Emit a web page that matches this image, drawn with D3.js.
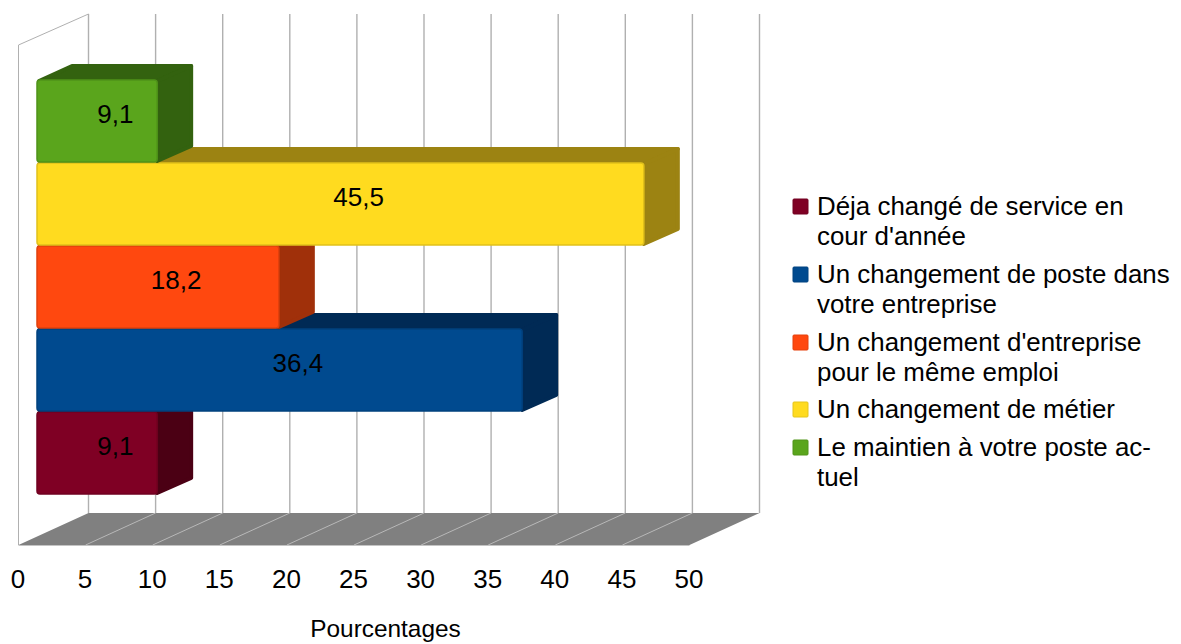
<!DOCTYPE html>
<html><head><meta charset="utf-8">
<script src="https://cdn.jsdelivr.net/npm/d3@7"></script>
<style>html,body{margin:0;padding:0;background:#fff}svg{display:block}text{font-family:"Liberation Sans",Arial,sans-serif;fill:#000}</style>
</head><body><svg id="c" width="1181" height="644"></svg>
<script>
const categories=["Déja changé de service en cour d'année","Un changement de poste dans votre entreprise","Un changement d'entreprise pour le même emploi","Un changement de métier","Le maintien à votre poste actuel"];
const legendLines=[["Déja changé de service en","cour d'année"],["Un changement de poste dans","votre entreprise"],["Un changement d'entreprise","pour le même emploi"],["Un changement de métier"],["Le maintien à votre poste ac-","tuel"]];
const values=[9.1,36.4,18.2,45.5,9.1];
const valueLabels=["9,1","36,4","18,2","45,5","9,1"];
const faceColors=["#7f0024","#004a8f","#ff480f","#ffdb1f","#5aa51c"];
const sideColors=["#4b0014","#002a55","#a0300a","#9c8312","#33620f"];
const axisTitle="Pourcentages";
const tickValues=d3.range(0,51,5);

const svg=d3.select("#c");
const x=d3.scaleLinear().domain([0,50]).range([18.5,689.5]);
const barX=d3.scaleLinear().domain([0,50]).range([35.5,704]);
const y=d3.scaleBand().domain(d3.range(values.length)).range([495,80]);
const floorY=545,backDX=70,backDY=-32,topY=14,barLeft=37,barDX=35,barDY=-15;
const grid="#b0b0b0";

// walls
const wall=svg.append("g").attr("fill","none").attr("stroke",grid);
wall.selectAll("line.g").data(tickValues).join("line").attr("class","g")
 .attr("x1",d=>x(d)+backDX).attr("x2",d=>x(d)+backDX).attr("y1",topY).attr("y2",floorY+backDY).attr("stroke-width",1.4);
wall.append("path").attr("d",`M${x(0)},${floorY}V45L${x(0)+backDX},${topY}`).attr("stroke-width",1);

// floor
svg.append("path").attr("fill","#808080")
 .attr("d",`M${x(0)},${floorY}L${x(0)+backDX},${floorY+backDY}H${x(50)+backDX}L${x(50)},${floorY}Z`);
svg.append("g").attr("stroke","#b8b8b8").attr("stroke-width",1).selectAll("line").data(tickValues.slice(1,-1)).join("line")
 .attr("x1",d=>x(d)).attr("y1",floorY).attr("x2",d=>x(d)+backDX).attr("y2",floorY+backDY);
svg.append("line").attr("x1",x(0)).attr("x2",x(50)).attr("y1",floorY+.5).attr("y2",floorY+.5).attr("stroke","#c4c4c4");

// bars, drawn bottom first so upper ones overlap
const bars=svg.append("g").selectAll("g").data(values).join("g");
bars.each(function(v,i){
  const g=d3.select(this),x0=barLeft,x1=barX(v),t=y(i),b=t+y.bandwidth()-1;
  const poly=(d,f)=>g.append("path").attr("d",d).attr("fill",f).attr("stroke",f).attr("stroke-width",4).attr("stroke-linejoin","round");
  poly(`M${x0+2},${t+1}L${x0+barDX},${t+barDY+1}H${x1+barDX-1}L${x1},${t+1}Z`,sideColors[i]);
  poly(`M${x1},${t+1}L${x1+barDX-1},${t+barDY+1}V${b+barDY-1}L${x1},${b-1}Z`,sideColors[i]);
  g.append("rect").attr("x",x0).attr("y",t).attr("width",x1-x0).attr("height",b-t).attr("rx",3)
   .attr("fill",faceColors[i]).attr("stroke",d3.color(faceColors[i]).darker(.35)).attr("stroke-width",1.5);
});
bars.append("text").attr("text-anchor","middle").attr("font-size",26)
 .attr("x",v=>barX(v/2)+19).attr("y",(v,i)=>y(i)+y.bandwidth()/2+1)
 .text((v,i)=>valueLabels[i]);

// axis labels
svg.append("g").selectAll("text").data(tickValues).join("text").attr("text-anchor","middle").attr("font-size",26)
 .attr("x",d=>x(d)-.5).attr("y",588).text(d=>d);
svg.append("text").attr("text-anchor","middle").attr("font-size",24.4).attr("x",385.5).attr("y",637).text(axisTitle);

// legend
const legendTops=[215,283,351,418,456];
const lg=svg.append("g").selectAll("g").data(categories).join("g");
lg.append("rect").attr("x",793).attr("y",(d,i)=>legendTops[i]-16).attr("width",15).attr("height",15).attr("rx",1)
 .attr("fill",(d,i)=>faceColors[i]).attr("stroke",(d,i)=>d3.color(faceColors[i]).darker(.3));
lg.each(function(d,i){
  d3.select(this).selectAll("text").data(legendLines[i]).join("text").attr("font-size",25.9)
   .attr("x",817).attr("y",(l,j)=>legendTops[i]+j*29.5).text(l=>l);
});
</script></body></html>
